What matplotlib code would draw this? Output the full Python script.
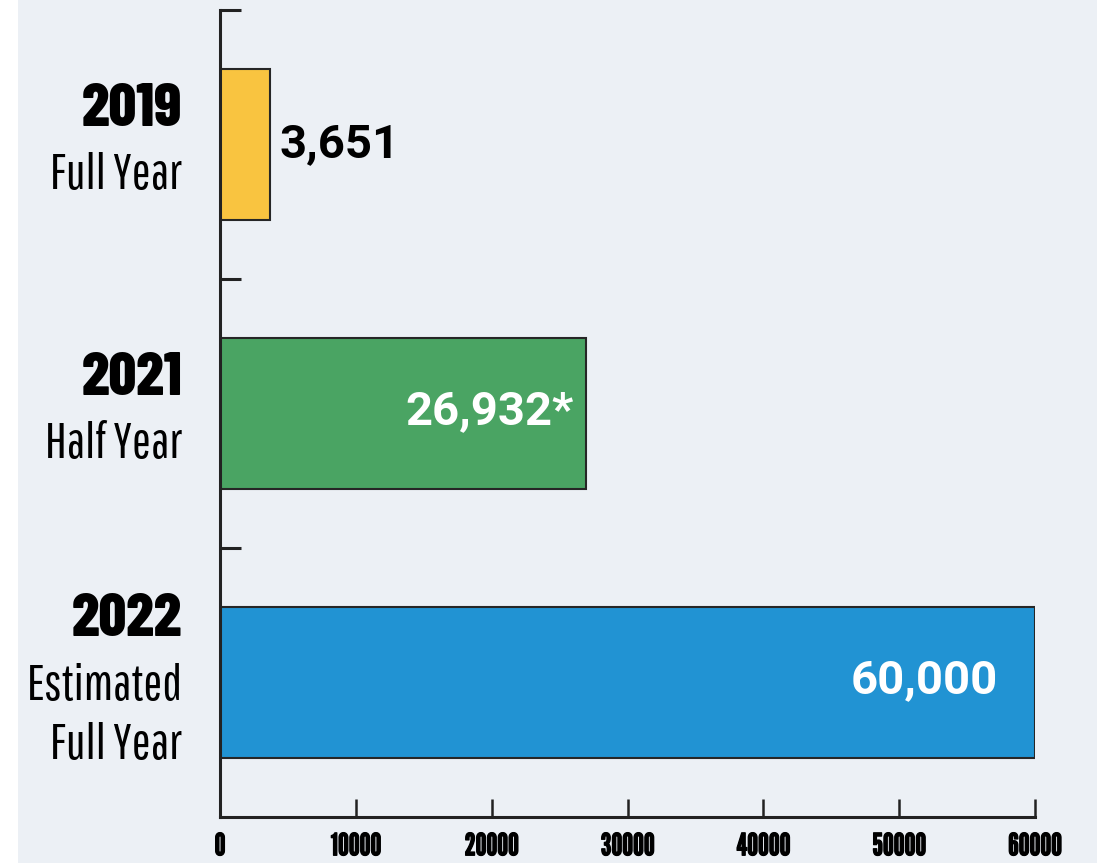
import matplotlib.pyplot as plt
from matplotlib.patches import Rectangle
import matplotlib.patheffects as pe

years = ['2019', '2021', '2022']
periods = ['Full Year', 'Half Year', 'Estimated\nFull Year']
values = [3651, 26932, 60000]
value_labels = ['3,651', '26,932*', '60,000']
bar_colors = ['#F9C440', '#4AA463', '#2193D3']

year_font = ['Barlow Condensed', 'DejaVu Sans']
period_font = ['Pathway Gothic One', 'DejaVu Sans']
tick_font = ['League Gothic', 'DejaVu Sans']
value_font = ['Roboto', 'DejaVu Sans']

fig = plt.figure(figsize=(11.02, 8.63), dpi=100, facecolor='white')
fig.patches.append(Rectangle((18 / 1102, 0), 1079 / 1102, 1, transform=fig.transFigure,
                             facecolor='#ECF0F5', edgecolor='none', zorder=-10))

ax = fig.add_axes([220 / 1102, 46 / 863, 815 / 1102, 807 / 863])
ax.set_facecolor('none')

pos = list(range(len(values)))
ax.barh(pos, values, height=0.56, color=bar_colors, edgecolor='#262626', linewidth=1.5, zorder=2)

ax.set_xlim(0, 60000)
ax.set_ylim(2.5, -0.5)

for s in ['top', 'right']:
    ax.spines[s].set_visible(False)
for s in ['left', 'bottom']:
    ax.spines[s].set_linewidth(2.2)
    ax.spines[s].set_color('#222222')
    ax.spines[s].set_capstyle('projecting')

ax.set_xticks(range(0, 60001, 10000))
ax.tick_params(axis='x', direction='in', length=13, width=1.8, color='#222222', pad=11)
for lab in ax.get_xticklabels():
    lab.set_fontfamily(tick_font)
    lab.set_fontsize(22)
    lab.set_path_effects([pe.withStroke(linewidth=0.9, foreground='black')])
ax.set_yticks([-0.5, 0.5, 1.5])
ax.set_yticklabels([])
ax.tick_params(axis='y', direction='in', length=15, width=2.2, color='#222222')

# category labels to the left of the axis
for i, (yr, per) in enumerate(zip(years, periods)):
    two_lines = '\n' in per
    ax.annotate(yr, xy=(0, i), xycoords=('axes fraction', 'data'),
                xytext=(-27, 45 if two_lines else 25), textcoords='offset points',
                ha='right', va='center', fontsize=44, fontweight=800,
                family=year_font, color='black')
    ax.annotate(per, xy=(0, i), xycoords=('axes fraction', 'data'),
                xytext=(-27, -24 if two_lines else -22), textcoords='offset points',
                ha='right', va='center', fontsize=36, family=period_font,
                color='black', linespacing=1.35)

# value labels: outside for the short bar, inside for the others
inside_pad = [0, -9, -27]
for i, (v, txt) in enumerate(zip(values, value_labels)):
    if v < 10000:
        ax.annotate(txt, xy=(v, i), xytext=(7, 0), textcoords='offset points',
                    ha='left', va='center', fontsize=34, fontweight='bold',
                    family=value_font, color='black')
    else:
        ax.annotate(txt, xy=(v, i), xytext=(inside_pad[i], 2), textcoords='offset points',
                    ha='right', va='center', fontsize=34, fontweight='bold',
                    family=value_font, color='white')

fig.savefig('out.png', dpi=100, facecolor=fig.get_facecolor())
